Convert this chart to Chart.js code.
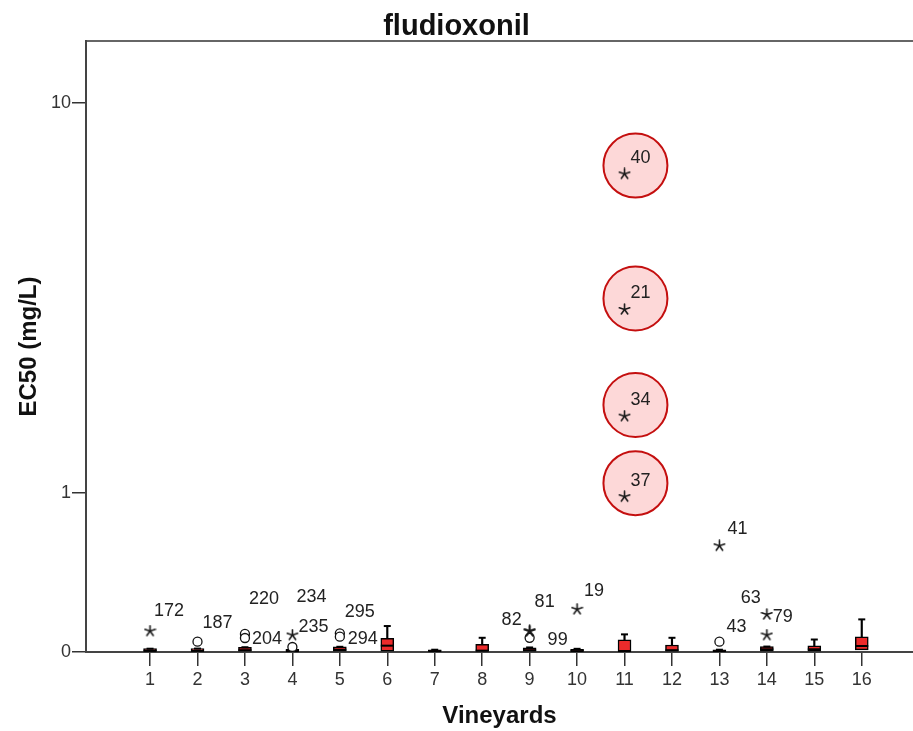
<!DOCTYPE html>
<html>
<head>
<meta charset="utf-8">
<script src="https://cdn.jsdelivr.net/npm/chart.js@4.4.1/dist/chart.umd.min.js"></script>
<style>
  html, body { margin: 0; padding: 0; background: #fff; }
  canvas { display: block; }
</style>
</head>
<body>
<canvas id="box-chart" width="913" height="731"></canvas>
<script>
// vineyards on the x axis, EC50 values in mg/L
const vineyards = [1, 2, 3, 4, 5, 6, 7, 8, 9, 10, 11, 12, 13, 14, 15, 16];
const boxLow = [0, 0, 0, 0, 0, 0.004, 0, 0, 0, 0, 0.002, 0, 0, 0, 0, 0.009];
const boxMedian = [0.005, 0.005, 0.008, 0.004, 0.01, 0.028, 0.004, 0.006, 0.008, 0.004, 0.004, 0.008, 0.004, 0.012, 0.012, 0.0265];
const boxHigh = [0.0145, 0.015, 0.021, 0.012, 0.023, 0.062, 0.01, 0.034, 0.018, 0.012, 0.054, 0.031, 0.01, 0.024, 0.027, 0.069];
const whiskerTop = [0.0145, 0.015, 0.021, 0.012, 0.023, 0.12, 0.01, 0.064, 0.02, 0.014, 0.08, 0.064, 0.01, 0.024, 0.056, 0.153];

// outliers (circles) and extremes (stars) with case numbers
const mildVineyard = [2, 3, 3, 4, 5, 5, 9, 13];
const mildValue = [0.046, 0.082, 0.063, 0.022, 0.085, 0.069, 0.064, 0.046];
const mildCase = ['187', '220', '204', '235', '295', '294', '99', '43'];

const extremeVineyard = [1, 4, 9, 9, 10, 11, 11, 11, 11, 13, 14, 14];
const extremeValue = [0.096, 0.077, 0.0975, 0.094, 0.205, 7.06, 3.46, 1.8, 0.97, 0.59, 0.178, 0.077];
const extremeCase = ['172', '234', '81', '82', '19', '40', '21', '34', '37', '41', '63', '79'];

// red circles drawn around the four highest values of vineyard 11
const ringVineyard = [11.23, 11.23, 11.23, 11.23];
const ringValue = [7.36, 3.68, 1.94, 1.09];

const yTicks = [0, 1, 10];

// label placement (pixels from the marker), like SPSS puts them
const mildLabelOffset = [[20, -19], [19, -35], [22, 1], [21, -20], [20, -21], [23, 2], [28, 2], [17, -15]];
const extremeLabelOffset = [[19, -20], [19, -38], [15, -29], [-18, -11], [17, -18], [16, -16], [16, -16], [16, -16], [16, -16], [18, -17], [-16, -16], [16, -18]];

Chart.defaults.font.family = '"Liberation Sans", Arial, sans-serif';

// "safe log" axis: log10(1 + v)
class SafeLogScale extends Chart.LinearScale {
  buildTicks() {
    return yTicks.map(v => ({ value: v }));
  }
  getPixelForValue(value) {
    const lo = Math.log10(1 + this.min);
    const hi = Math.log10(1 + this.max);
    return this.getPixelForDecimal((Math.log10(1 + value) - lo) / (hi - lo));
  }
  getValueForPixel(pixel) {
    const lo = Math.log10(1 + this.min);
    const hi = Math.log10(1 + this.max);
    return Math.pow(10, lo + this.getDecimalForPixel(pixel) * (hi - lo)) - 1;
  }
}
SafeLogScale.id = 'safelog';
SafeLogScale.defaults = Chart.LinearScale.defaults;
Chart.register(SafeLogScale);

// five-armed asterisk used for the extreme values
function asterisk(size) {
  const c = document.createElement('canvas');
  c.width = c.height = size;
  const g = c.getContext('2d');
  g.strokeStyle = '#1a1a1a';
  g.lineWidth = 1.6;
  g.lineCap = 'round';
  const r = size / 2 - 1;
  g.beginPath();
  for (let k = 0; k < 5; k++) {
    const a = -Math.PI / 2 + k * 2 * Math.PI / 5;
    g.moveTo(size / 2, size / 2);
    g.lineTo(size / 2 + r * Math.cos(a), size / 2 + r * Math.sin(a));
  }
  g.stroke();
  return c;
}

const caseLabels = {
  id: 'caseLabels',
  afterDatasetsDraw(chart) {
    const ctx = chart.ctx;
    ctx.save();
    ctx.font = '18px "Liberation Sans", Arial, sans-serif';
    ctx.fillStyle = '#222';
    ctx.textAlign = 'center';
    ctx.textBaseline = 'middle';
    chart.data.datasets.forEach((ds, i) => {
      if (!ds.caseIds) return;
      chart.getDatasetMeta(i).data.forEach((pt, j) => {
        const off = ds.labelOffsets[j];
        ctx.fillText(ds.caseIds[j], pt.x + off[0], pt.y + off[1]);
      });
    });
    ctx.restore();
  }
};

const pts = (xs, ys) => xs.map((x, i) => ({ x: x, y: ys[i] }));

new Chart(document.getElementById('box-chart'), {
  type: 'scatter',
  data: {
    datasets: [
      {
        data: pts(extremeVineyard, extremeValue),
        pointStyle: asterisk(13), pointRadius: 6,
        caseIds: extremeCase, labelOffsets: extremeLabelOffset
      },
      {
        data: pts(mildVineyard, mildValue),
        pointStyle: 'circle', pointRadius: 4.5, borderWidth: 1.3,
        borderColor: '#111', backgroundColor: '#fff',
        caseIds: mildCase, labelOffsets: mildLabelOffset
      },
      {
        data: pts(vineyards, whiskerTop),
        pointStyle: 'line', pointRadius: 3.5, borderWidth: 2, borderColor: '#000'
      },
      {
        data: pts(vineyards, boxMedian),
        pointStyle: 'line', pointRadius: 6.5, borderWidth: 2, borderColor: '#000'
      },
      {
        type: 'bar',
        data: vineyards.map((v, i) => ({ x: v, y: [boxLow[i], boxHigh[i]] })),
        barThickness: 13, grouped: false,
        backgroundColor: '#ec2b2b', borderColor: '#000', borderWidth: 1.5, borderSkipped: false
      },
      {
        type: 'bar',
        data: vineyards.map((v, i) => ({ x: v, y: [boxHigh[i], whiskerTop[i]] })),
        barThickness: 1.5, grouped: false,
        backgroundColor: '#000', borderWidth: 0
      },
      {
        data: pts(ringVineyard, ringValue),
        pointStyle: 'circle', pointRadius: 32, borderWidth: 2,
        borderColor: '#c40f0f', backgroundColor: 'rgba(253, 214, 214, 0.95)',
        order: 5
      }
    ]
  },
  options: {
    responsive: false,
    animation: false,
    devicePixelRatio: 1,
    layout: { padding: 0, autoPadding: false },
    plugins: {
      legend: { display: false },
      tooltip: { enabled: false },
      title: {
        display: true, text: 'fludioxonil', color: '#111',
        font: { size: 29, weight: 'bold', lineHeight: 1 },
        padding: { top: 12, bottom: 0 }
      }
    },
    scales: {
      x: {
        type: 'linear', min: -0.35, max: 17.08, offset: false,
        afterBuildTicks: s => { s.ticks = vineyards.map(v => ({ value: v })); },
        afterFit: s => { s.height = 79; },
        ticks: { autoSkip: false, maxRotation: 0, padding: 3, color: '#333', font: { size: 18 }, callback: v => String(v) },
        grid: { offset: false, drawOnChartArea: false, drawTicks: true, tickLength: 14, color: '#333', lineWidth: 1.5 },
        border: { display: true, color: '#444', width: 2 },
        title: { display: true, text: 'Vineyards', color: '#111', font: { size: 24, weight: 'bold' }, padding: { top: 0, bottom: 0 } }
      },
      x2: {
        type: 'linear', position: 'top', min: 0, max: 1, offset: false,
        afterFit: s => { s.height = 0; },
        ticks: { display: false },
        grid: { drawOnChartArea: false, drawTicks: false },
        border: { display: true, color: '#666', width: 2 }
      },
      y: {
        type: 'safelog', min: 0, max: 13.4,
        afterFit: s => { s.width = 86; },
        ticks: { padding: 1, color: '#333', font: { size: 18 }, callback: v => String(v) },
        grid: { drawOnChartArea: false, drawTicks: true, tickLength: 14, color: '#333', lineWidth: 1.5 },
        border: { display: true, color: '#444', width: 2 },
        title: { display: true, text: 'EC50 (mg/L)', color: '#111', font: { size: 24, weight: 'bold' }, padding: { top: 15, bottom: 0 } }
      }
    }
  },
  plugins: [caseLabels]
});
</script>
</body>
</html>
